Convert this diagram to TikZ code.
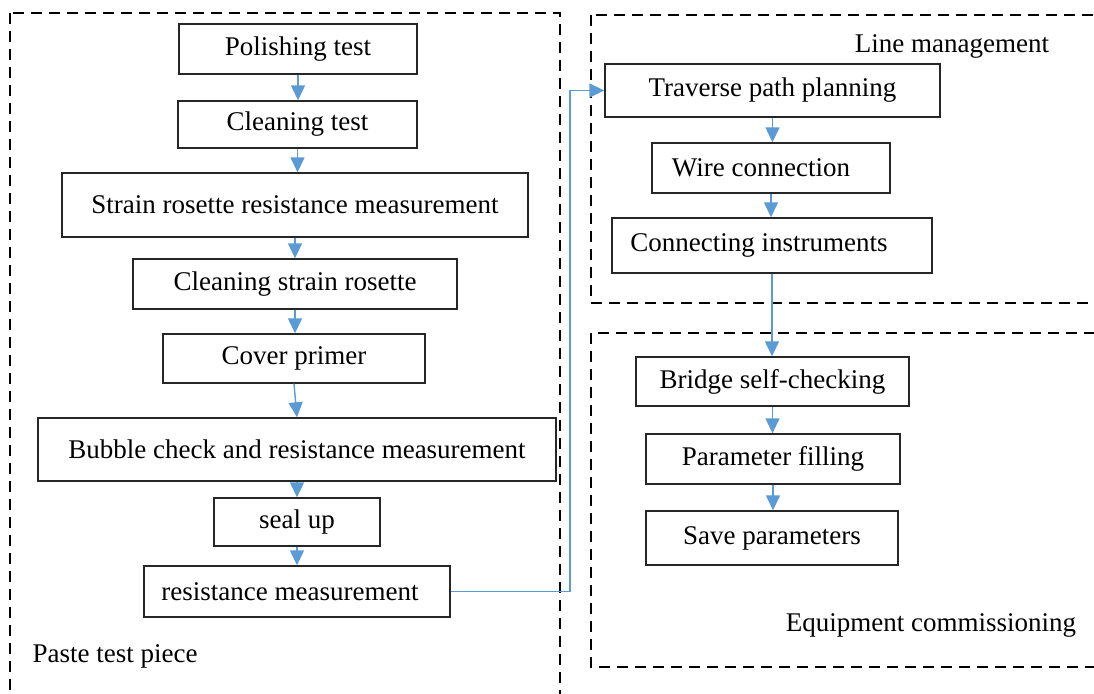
\documentclass[tikz,border=0pt]{standalone}
\usepackage{fontspec}
\setmainfont{Liberation Serif}
\usetikzlibrary{arrows.meta}
\tikzset{
  stepbox/.style={draw=black!85, line width=1.4pt, fill=white, inner sep=0pt, font=\fontsize{27}{32}\selectfont, text=black},
  frame/.style={draw=black, line width=2.7pt, dash pattern=on 11pt off 7pt},
  arr/.style={draw={rgb,255:red,91;green,155;blue,213}, line width=1.4pt, -{Triangle[width=14pt,length=15pt]}},
  lbl/.style={font=\fontsize{27}{32}\selectfont, inner sep=0pt, text=black}
}
\begin{document}
\begin{tikzpicture}[x=1pt,y=-1pt]
\useasboundingbox (0,0) rectangle (1094,693);
\clip (0,0) rectangle (1094,693);
\fill[white] (0,0) rectangle (1094,693);
% frames
\draw[frame] (10,13) rectangle (560,730);
\draw[frame] (591,15) rectangle (1130,303);
\draw[frame] (591,333) rectangle (1130,667);
% left column
\node[stepbox, minimum width=238pt, minimum height=50pt] (p1) at (298,49) {Polishing test};
\node[stepbox, minimum width=239pt, minimum height=47pt] (p2) at (297.5,124.5) {Cleaning test};
\node[stepbox, minimum width=466pt, minimum height=64pt] (p3) at (295,205) {Strain rosette resistance measurement};
\node[stepbox, minimum width=324pt, minimum height=50pt] (p4) at (295,284) {Cleaning strain rosette};
\node[stepbox, minimum width=262pt, minimum height=49pt] (p5) at (294,358.5) {Cover primer};
\node[stepbox, minimum width=518pt, minimum height=63pt] (p6) at (297,449.5) {Bubble check and resistance measurement};
\node[stepbox, minimum width=166pt, minimum height=48pt] (p7) at (297,522) {seal up};
\node[stepbox, minimum width=306pt, minimum height=51pt] (p8) at (297,591.5) {\hspace*{-14pt}resistance measurement};
% right column
\node[stepbox, minimum width=335pt, minimum height=53pt] (r1) at (772.5,90.5) {Traverse path planning};
\node[stepbox, minimum width=238pt, minimum height=50pt] (r2) at (771,168) {\hspace*{-20pt}Wire connection};
\node[stepbox, minimum width=320pt, minimum height=55pt] (r3) at (772,245.5) {\hspace*{-26pt}Connecting instruments};
\node[stepbox, minimum width=273pt, minimum height=49pt] (r4) at (772.5,381.5) {Bridge self-checking};
\node[stepbox, minimum width=254pt, minimum height=50pt] (r5) at (773,459) {Parameter filling};
\node[stepbox, minimum width=252pt, minimum height=54pt] (r6) at (772,538) {Save parameters};
% labels
\node[lbl] (lm) at (952,46) {Line management};
\node[lbl] (ec) at (931,625) {Equipment commissioning};
\node[lbl] (pt) at (115,656) {Paste test piece};
% arrows left
\draw[arr] (p1.south) -- (p1.south |- p2.north);
\draw[arr] (p2.south) -- (p2.south |- p3.north);
\draw[arr] (p3.south) -- (p3.south |- p4.north);
\draw[arr] (p4.south) -- (p4.south |- p5.north);
\draw[arr] (p5.south) -- (p6.north);
\draw[arr] (p6.south) -- (p6.south |- p7.north);
\draw[arr] (p7.south) -- (p7.south |- p8.north);
% arrows right
\draw[arr] (r1.south) -- (r1.south |- r2.north);
\draw[arr] (r2.south) -- (r2.south |- r3.north);
\draw[arr] (r3.south) -- (r3.south |- r4.north);
\draw[arr] (r4.south) -- (r4.south |- r5.north);
\draw[arr] (r5.south) -- (r5.south |- r6.north);
% cross connector
\coordinate (bend) at (570,591.5);
\draw[arr] (p8.east) -- (bend) |- (r1.west);
\end{tikzpicture}
\end{document}
